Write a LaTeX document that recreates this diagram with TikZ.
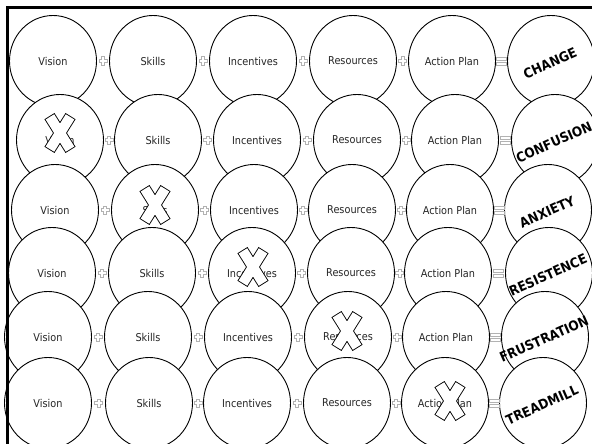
\documentclass[tikz,border=0pt]{standalone}
\usepackage{fontspec}
\setmainfont[FakeStretch=0.9]{DejaVu Sans}
\usetikzlibrary{shapes.geometric,calc}
\tikzset{
  bub/.style={ellipse, draw=black, fill=white, line width=0.9pt,
    minimum width=87pt, minimum height=91pt, inner sep=0pt,
    font=\fontsize{10.8}{12}\selectfont, text=black!85},
  restext/.style={font=\bfseries\fontsize{13.5}{14}\selectfont, rotate=24, inner sep=0pt, text=black},
  signline/.style={draw=black!30, line width=0.6pt},
  plussign/.pic={\path[signline] (-1.3,-4.2) -- (1.3,-4.2) -- (1.3,-1.3) -- (4.2,-1.3) -- (4.2,1.3) -- (1.3,1.3) -- (1.3,4.2) -- (-1.3,4.2) -- (-1.3,1.3) -- (-4.2,1.3) -- (-4.2,-1.3) -- (-1.3,-1.3) -- cycle;},
  eqsign/.pic={\path[signline] (-5,-4) rectangle (5,-1) (-5,1) rectangle (5,4);},
  xmark/.pic={
    \foreach \a in {32,-32} \draw[line width=1.8pt, rotate=\a] (-5,-19) rectangle (5,19);
    \foreach \a in {32,-32} \fill[white, rotate=\a] (-5,-19) rectangle (5,19);
  }
}
\begin{document}
\begin{tikzpicture}[x=1pt,y=-1pt]
\useasboundingbox (0,0) rectangle (592,444);
\clip (0,0) rectangle (592,444);
\foreach \r/\y/\xa/\xb/\xc/\xd/\xe/\xf/\res/\xcol/\xx/\xy in {
  1/61/53/153/253/353/452/551/CHANGE/0/0/0,
  2/140/60/158/257/357/455/555/CONFUSION/1/60/133,
  3/210/55/155/254/352/450/548/ANXIETY/2/155/205,
  4/273/52/152/252/351/448/549/RESISTENCE/3/253/267,
  5/337/48/148/248/348/446/545/FRUSTRATION/4/347/331,
  6/403/48/149/247/347/445/543/TREADMILL/5/450/401}{
  \node[bub] (c\r1) at (\xa,\y) {Vision};
  \node[bub] (c\r2) at (\xb,\y) {Skills};
  \node[bub] (c\r3) at (\xc,\y) {Incentives};
  \node[bub] (c\r4) at (\xd,\y) {Resources};
  \node[bub] (c\r5) at (\xe,\y) {Action Plan};
  \node[bub] (c\r6) at (\xf,\y) {};
  \node[restext] (t\r) at ($(c\r6.center)+(-1,2)$) {\res};
  \foreach \i/\j in {1/2,2/3,3/4,4/5}
    \path ($(c\r\i.east)!0.5!(c\r\j.west)$) pic {plussign};
  \path ($(c\r5.east)!0.5!(c\r6.west)$) pic {eqsign};
  \ifnum\xcol>0
    \path (\xx,\xy) pic {xmark};
  \fi
}
\draw[line width=2.6pt] (7.5,444) -- (7.5,7.5) -- (592,7.5);
\end{tikzpicture}
\end{document}
